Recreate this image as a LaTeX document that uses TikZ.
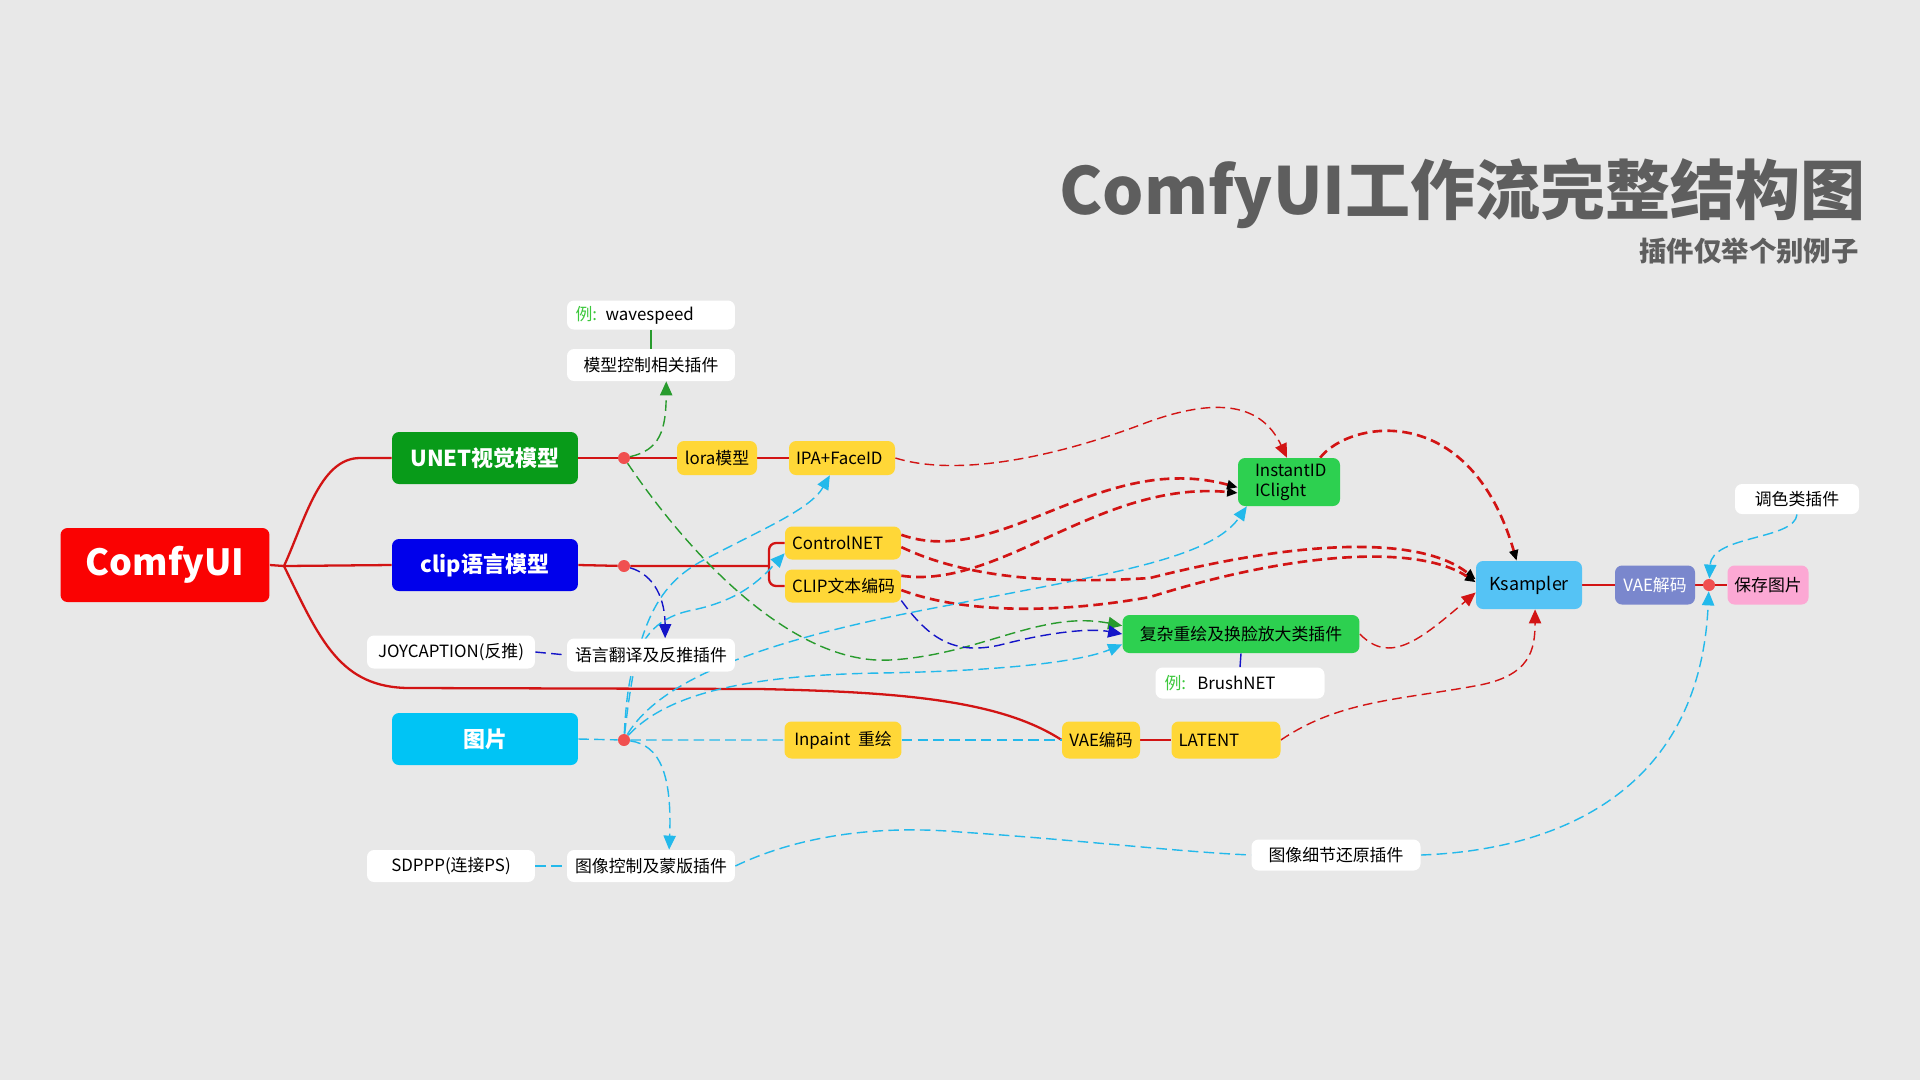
\documentclass[tikz,border=0pt]{standalone}
\usepackage{fontspec}
\setmainfont{Noto Sans CJK SC}
\usepackage{tikz}
\usetikzlibrary{arrows.meta, calc}

\definecolor{bggray}{RGB}{232,232,232}
\definecolor{comfyred}{RGB}{250,2,2}
\definecolor{unetgrn}{RGB}{8,155,25}
\definecolor{clipblue}{RGB}{0,0,235}
\definecolor{piccyan}{RGB}{0,196,245}
\definecolor{nodeyel}{RGB}{255,215,55}
\definecolor{nodegrn}{RGB}{45,208,80}
\definecolor{ksamblue}{RGB}{85,195,245}
\definecolor{vaepurp}{RGB}{122,135,205}
\definecolor{savepink}{RGB}{252,168,212}
\definecolor{titlegray}{RGB}{94,94,94}
\definecolor{linered}{RGB}{210,20,20}
\definecolor{dotred}{RGB}{240,80,80}
\definecolor{cyanln}{RGB}{35,185,235}
\definecolor{grnln}{RGB}{40,155,45}
\definecolor{blueln}{RGB}{20,20,200}
\definecolor{exgreen}{RGB}{60,200,60}

\newcommand\fsml{\fontsize{9.6pt}{11.5pt}\selectfont}
\newcommand\fmid{\fontsize{12.5pt}{15pt}\selectfont\bfseries}

\pgfdeclarelayer{edges}
\pgfsetlayers{edges,main}

\begin{document}
\begin{tikzpicture}[x=0.02cm, y=-0.02cm,
    box/.style={rounded corners=0.14cm, inner sep=0pt, font=\fsml, align=center},
    yel/.style={box, fill=nodeyel},
    wht/.style={box, fill=white},
    grn/.style={box, fill=nodegrn},
    big/.style={box, font=\fmid, text=white, minimum width=3.72cm, minimum height=1.04cm},
    lbox/.style={align=left, inner xsep=0.14cm, text width=#1},
    dot/.style={circle, fill=dotred, inner sep=0pt, minimum size=0.24cm},
    solidln/.style={draw=linered, line width=1.3pt},
    rdash/.style={draw=linered, line width=0.8pt, dash pattern=on 5.5pt off 3pt, -{Triangle[length=8pt,width=7pt]}},
    rthick/.style={draw=linered, line width=1.5pt, dash pattern=on 5.5pt off 3pt, -{Triangle[length=6pt,width=5pt,color=black]}},
    cdash/.style={draw=cyanln, line width=0.8pt, dash pattern=on 6pt off 3pt},
    carr/.style={cdash, -{Triangle[length=8pt,width=7pt]}},
    gdash/.style={draw=grnln, line width=0.8pt, dash pattern=on 6pt off 3pt, -{Triangle[length=8pt,width=7pt]}},
    bdash/.style={draw=blueln, line width=0.8pt, dash pattern=on 6pt off 3pt}
]
    \begin{pgfonlayer}{edges}
        \fill[bggray] (0,0) rectangle (1920,1080);
    \end{pgfonlayer}
    \useasboundingbox (0,0) rectangle (1920,1080);

    % title
    \node[anchor=east, inner sep=0pt, text=titlegray, font=\fontsize{37pt}{40pt}\selectfont\bfseries] (title) at (1866,193) {ComfyUI工作流完整结构图};
    \node[anchor=east, inner sep=0pt, text=titlegray, font=\fontsize{15.6pt}{18pt}\selectfont\bfseries] (subtitle) at (1859,251) {插件仅举个别例子};

    % main branches
    \node[box, fill=comfyred, text=white, font=\fontsize{20.5pt}{24pt}\selectfont\bfseries, minimum width=4.18cm, minimum height=1.48cm] (comfy) at (165,565) {ComfyUI};
    \node[big, fill=unetgrn] (unet) at (485,458) {UNET视觉模型};
    \node[big, fill=clipblue] (clipm) at (485,565) {clip语言模型};
    \node[big, fill=piccyan] (pic) at (485,739) {图片};
    \coordinate (hub) at (284,566);
    \foreach \n/\y in {d1/458, d2/566, d3/740} \node[dot] (\n) at (624,\y) {};

    % model chain
    \node[yel, minimum width=1.6cm, minimum height=0.68cm] (lora) at (717,458) {lora模型};
    \node[yel, lbox=1.84cm, minimum height=0.68cm] (ipa) at (842,458) {IPA+FaceID};
    \node[yel, lbox=2.04cm, minimum height=0.66cm] (ctrl) at (843,543) {ControlNET};
    \node[yel, lbox=2.04cm, minimum height=0.66cm] (cliptxt) at (843,586) {CLIP文本编码};
    \coordinate (brk) at (769,566);
    \node[yel, minimum width=2.34cm, minimum height=0.74cm] (inpaint) at (843,740) {Inpaint\ \ 重绘};
    \node[yel, minimum width=1.56cm, minimum height=0.74cm] (vaeenc) at (1101,740) {VAE编码};
    \node[yel, lbox=1.9cm, minimum height=0.74cm] (latent) at (1226,740) {LATENT};

    % plugins
    \node[wht, lbox=3.02cm, inner xsep=0.17cm, minimum height=0.58cm] (wave) at (651,315) {{\color{exgreen}例:} wavespeed};
    \node[wht, minimum width=3.36cm, minimum height=0.64cm] (mctrl) at (651,365) {模型控制相关插件};
    \node[wht, minimum width=3.36cm, minimum height=0.66cm] (joy) at (451,652) {JOYCAPTION(反推)};
    \node[wht, minimum width=3.36cm, minimum height=0.66cm] (trans) at (651,655) {语言翻译及反推插件};
    \node[wht, minimum width=3.36cm, minimum height=0.64cm] (sdppp) at (451,866) {SDPPP(连接PS)};
    \node[wht, minimum width=3.36cm, minimum height=0.64cm] (imgctrl) at (651,866) {图像控制及蒙版插件};
    \node[wht, minimum width=3.38cm, minimum height=0.62cm] (detail) at (1336,855) {图像细节还原插件};
    \node[wht, minimum width=2.48cm, minimum height=0.6cm] (tone) at (1797,499) {调色类插件};
    \node[grn, lbox=1.36cm, inner xsep=0.34cm, minimum height=0.96cm, font=\fontsize{9.6pt}{11.3pt}\selectfont] (inst) at (1289,482) {InstantID\\IClight};
    \node[grn, minimum width=4.74cm, minimum height=0.76cm] (cplx) at (1241,634) {复杂重绘及换脸放大类插件};
    \node[wht, lbox=3.02cm, inner xsep=0.18cm, minimum height=0.62cm] (brush) at (1240,683) {{\color{exgreen}例:}\ \ BrushNET};

    % output chain
    \node[box, fill=ksamblue, font=\fontsize{10.2pt}{12pt}\selectfont, minimum width=2.12cm, minimum height=0.96cm] (ksam) at (1529,585) {Ksampler};
    \node[box, fill=vaepurp, text=white, minimum width=1.6cm, minimum height=0.78cm] (vaedec) at (1655,585) {VAE解码};
    \node[dot] (d4) at (1709,585) {};
    \node[box, fill=savepink, minimum width=1.62cm, minimum height=0.78cm] (save) at (1768,585) {保存图片};

    \begin{pgfonlayer}{edges}
        % solid red
        \draw[solidln] (comfy.east) -- (hub) -- (clipm.west);
        \draw[solidln] (hub) .. controls (305,520) and (320,458) .. (360,458) -- (unet.west);
        \draw[solidln] (hub) .. controls (320,640) and (340,688) .. (410,688) -- (760,689) .. controls (900,692) and (1000,700) .. (vaeenc.west);
        \draw[solidln] (unet.east) -- (d1) -- (lora.west);
        \draw[solidln] (lora.east) -- (ipa.west);
        \draw[solidln] (clipm.east) -- (d2) -- (brk);
        \draw[solidln, rounded corners=4pt] (ctrl.west) -| (brk) |- (cliptxt.west);
        \draw[solidln] (vaeenc.east) -- (latent.west);
        \draw[solidln] (ksam.east) -- (vaedec.west);
        \draw[solidln] (vaedec.east) -- (d4) -- (save.west);

        % red dashed
        \draw[rdash] (ipa.east) .. controls (960,478) and (1060,455) .. (1140,425) .. controls (1210,398) and (1260,400) .. (inst.95);
        \draw[rthick] (ctrl.8) .. controls (1000,570) and (1100,450) .. (inst.186);
        \draw[rthick] (cliptxt.10) .. controls (1000,590) and (1100,480) .. (inst.192);
        \draw[rthick] (ctrl.-4) .. controls (960,575) and (1040,585) .. (1150,578) .. controls (1300,540) and (1420,535) .. (ksam.174);
        \draw[rthick] (cliptxt.-4) .. controls (960,612) and (1050,615) .. (1150,597) .. controls (1300,550) and (1420,545) .. (ksam.177);
        \draw[rthick] (inst.38) .. controls (1350,420) and (1470,400) .. (ksam.117);
        \draw[rdash] (cplx.east) .. controls (1390,665) and (1420,640) .. (ksam.188);
        \draw[rdash] (latent.east) .. controls (1340,700) and (1400,700) .. (1480,685) .. controls (1530,675) and (1535,650) .. (ksam.-76);

        % green
        \draw[gdash] (d1) .. controls (660,450) and (666,430) .. (mctrl.-47);
        \draw[grnln, line width=0.8pt] (wave.south) -- (mctrl.north);
        \draw[gdash] (d1) .. controls (700,570) and (800,665) .. (890,660) .. controls (980,655) and (1040,610) .. (cplx.176);

        % dark blue
        \draw[bdash, -{Triangle[length=8pt,width=7pt]}] (d2) .. controls (655,575) and (665,600) .. (trans.50);
        \draw[bdash] (joy.east) -- (trans.west);
        \draw[bdash, -{Triangle[length=8pt,width=7pt]}] (cliptxt.-14) .. controls (930,640) and (955,655) .. (1000,645) .. controls (1050,632) and (1090,628) .. (cplx.west);
        \draw[blueln, line width=0.8pt] (cplx.south) -- (brush.north);

        % cyan
        \draw[cdash] (pic.east) -- (d3) -- (inpaint.west);
        \draw[cdash] (inpaint.east) -- (vaeenc.west);
        \draw[cdash] (sdppp.east) -- (imgctrl.west);
        \draw[carr] (d3) .. controls (635,640) and (650,590) .. (700,562) .. controls (760,530) and (810,510) .. (ipa.-125);
        \draw[carr] (d3) .. controls (628,660) and (640,620) .. (693,610) .. controls (740,600) and (760,580) .. (ctrl.190);
        \draw[carr] (d3) .. controls (660,680) and (760,640) .. (950,605) .. controls (1100,575) and (1210,560) .. (inst.210);
        \draw[carr] (d3) .. controls (670,690) and (760,675) .. (880,673) .. controls (1000,671) and (1080,662) .. (cplx.185);
        \draw[carr] (d3) .. controls (660,745) and (672,775) .. (imgctrl.42);
        \draw[cdash] (imgctrl.east) .. controls (800,835) and (880,825) .. (960,832) .. controls (1080,840) and (1180,852) .. (detail.west);
        \draw[carr] (detail.east) .. controls (1560,850) and (1700,790) .. (d4);
        \draw[carr] (tone.south) .. controls (1795,540) and (1712,535) .. (d4);
    \end{pgfonlayer}
\end{tikzpicture}
\end{document}
